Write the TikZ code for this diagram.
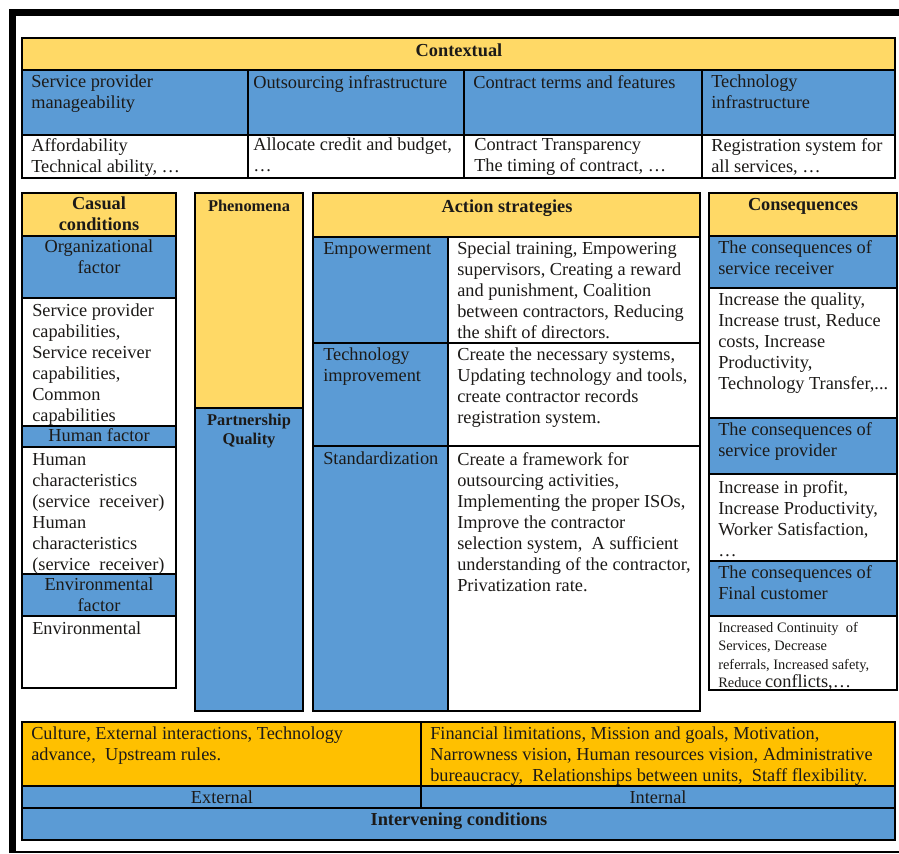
\documentclass[tikz,border=0pt]{standalone}
\usepackage{fontspec}
\setmainfont{Liberation Serif}
\usetikzlibrary{positioning}

\definecolor{headyellow}{HTML}{FFD966}
\definecolor{cellblue}{HTML}{5B9BD5}
\definecolor{condorange}{HTML}{FFC000}
\definecolor{ink}{HTML}{1C1A18}

\begin{document}
\begin{tikzpicture}[x = 0.75pt, y = -0.75pt,
    box/.style = {draw = black, line width = 1.2pt},
    txt/.style = {anchor = north west, inner sep = 0pt, align = left, text = ink,
                  font = \fontsize{13.75}{15.75}\selectfont},
    mid/.style = {txt, anchor = north, align = center},
    hdr/.style = {mid, font = \fontsize{13.75}{15.75}\selectfont\bfseries}]
    \useasboundingbox (0,0) rectangle (899,853);
    % frame %
    \draw[line width = 5.25pt] (12,853) -- (12,12) -- (899,12);
    \draw[line width = 1.2pt] (12,852) -- (899,852);
    % contextual block %
    \draw[box, fill = headyellow] (22,38) rectangle (895,70);
    \draw[box, fill = cellblue] (22,70) rectangle (248,135);
    \draw[box, fill = cellblue] (248,70) rectangle (464,135);
    \draw[box, fill = cellblue] (464,70) rectangle (702,135);
    \draw[box, fill = cellblue] (702,70) rectangle (895,135);
    \draw[box, fill = white] (22,135) rectangle (248,178);
    \draw[box, fill = white] (248,135) rectangle (464,178);
    \draw[box, fill = white] (464,135) rectangle (702,178);
    \draw[box, fill = white] (702,135) rectangle (895,178);
    % causal column %
    \draw[box, fill = headyellow] (22,193) rectangle (176,236);
    \draw[box, fill = cellblue] (22,236) rectangle (176,298);
    \draw[box, fill = white] (22,298) rectangle (176,426);
    \draw[box, fill = cellblue] (22,426) rectangle (176,447);
    \draw[box, fill = white] (22,447) rectangle (176,574);
    \draw[box, fill = cellblue] (22,574) rectangle (176,616);
    \draw[box, fill = white] (22,616) rectangle (176,688);
    % phenomena column %
    \draw[box, fill = headyellow] (195,193) rectangle (303,408);
    \draw[box, fill = cellblue] (195,408) rectangle (303,711);
    % strategies column %
    \draw[box, fill = headyellow] (313,193) rectangle (700,237);
    \draw[box, fill = cellblue] (313,237) rectangle (448,343);
    \draw[box, fill = white] (448,237) rectangle (700,343);
    \draw[box, fill = cellblue] (313,343) rectangle (448,446);
    \draw[box, fill = white] (448,343) rectangle (700,446);
    \draw[box, fill = cellblue] (313,446) rectangle (448,711);
    \draw[box, fill = white] (448,446) rectangle (700,711);
    % consequences column %
    \draw[box, fill = headyellow] (709,193) rectangle (897,236);
    \draw[box, fill = cellblue] (709,236) rectangle (897,288);
    \draw[box, fill = white] (709,288) rectangle (897,418);
    \draw[box, fill = cellblue] (709,418) rectangle (897,474);
    \draw[box, fill = white] (709,474) rectangle (897,561);
    \draw[box, fill = cellblue] (709,561) rectangle (897,616);
    \draw[box, fill = white] (709,616) rectangle (897,690);
    % intervening block %
    \draw[box, fill = condorange] (22,722) rectangle (421,786);
    \draw[box, fill = condorange] (421,722) rectangle (895,786);
    \draw[box, fill = cellblue] (22,786) rectangle (421,808);
    \draw[box, fill = cellblue] (421,786) rectangle (895,808);
    \draw[box, fill = cellblue] (22,808) rectangle (895,840);
    % contextual texts %
    \node[hdr] (ctx) at (459,44) {Contextual};
    \node[txt] (spm) at (31,75) {Service provider\\manageability};
    \node[txt] (oinf) at (253,75) {Outsourcing infrastructure};
    \node[txt] (ctf) at (473,75) {Contract terms and features};
    \node[txt] (tinf) at (711,75) {Technology\\infrastructure};
    \node[txt] (spm-d) at (31,138) {Affordability\\Technical ability, …};
    \node[txt] (oinf-d) at (253,138) {Allocate credit and budget,\\…};
    \node[txt] (ctf-d) at (474,138) {Contract Transparency\\The timing of contract, …};
    \node[txt] (tinf-d) at (711,138) {Registration system for\\all services, …};
    % causal texts %
    \node[hdr] (cas) at (99,197) {Casual\\conditions};
    \node[mid] (org) at (99,240) {Organizational\\factor};
    \node[txt] (org-d) at (32,304) {Service provider\\capabilities,\\Service receiver\\capabilities,\\Common\\capabilities};
    \node[mid] (hum) at (99,428) {Human factor};
    \node[txt] (hum-d) at (32,453) {Human\\characteristics\\(service\ \ receiver)\\Human\\characteristics\\(service\ \ receiver)};
    \node[mid] (env) at (99,578) {Environmental\\factor};
    \node[txt] (env-d) at (32,622) {Environmental};
    % phenomena texts %
    \node[hdr, font = \fontsize{12.3}{14.25}\selectfont\bfseries] (phen) at (249,200) {Phenomena};
    \node[hdr, font = \fontsize{12.3}{14.25}\selectfont\bfseries] (pq) at (249,414) {Partnership\\Quality};
    % strategies texts %
    \node[hdr] (act) at (507,200) {Action strategies};
    \node[txt] (emp) at (323,242) {Empowerment};
    \node[txt] (emp-d) at (457,242) {Special training, Empowering\\supervisors, Creating a reward\\and punishment, Coalition\\between contractors, Reducing\\the shift of directors.};
    \node[txt] (tec) at (323,348) {Technology\\improvement};
    \node[txt] (tec-d) at (457,348) {Create the necessary systems,\\Updating technology and tools,\\create contractor records\\registration system.};
    \node[txt] (std) at (323,452) {Standardization};
    \node[txt] (std-d) at (457,452) {Create a framework for\\outsourcing activities,\\Implementing the proper ISOs,\\Improve the contractor\\selection system,\ \ A sufficient\\understanding of the contractor,\\Privatization rate.};
    % consequences texts %
    \node[hdr] (cons) at (803,198) {Consequences};
    \node[txt] (rec) at (718,240) {The consequences of\\service receiver};
    \node[txt] (rec-d) at (718,293) {Increase the quality,\\Increase trust, Reduce\\costs, Increase\\Productivity,\\Technology Transfer,...};
    \node[txt] (prv) at (718,422) {The consequences of\\service provider};
    \node[txt] (prv-d) at (718,480) {Increase in profit,\\Increase Productivity,\\Worker Satisfaction,\\…};
    \node[txt] (fin) at (718,565) {The consequences of\\Final customer};
    \node[txt, font = \fontsize{10.8}{13.75}\selectfont] (fin-d) at (718,622) {Increased Continuity\ \ of\\Services, Decrease\\referrals, Increased safety,\\Reduce {\fontsize{13.75}{13.75}\selectfont conflicts,…}};
    % intervening texts %
    \node[txt] (ext-d) at (31,727) {Culture, External interactions, Technology\\advance,\ \ Upstream rules.};
    \node[txt] (int-d) at (430,727) {Financial limitations, Mission and goals, Motivation,\\Narrowness vision, Human resources vision, Administrative\\bureaucracy,\ \ Relationships between units,\ \ Staff flexibility.};
    \node[mid] (ext) at (222,791) {External};
    \node[mid] (int) at (658,791) {Internal};
    \node[hdr] (ivc) at (459,813) {Intervening conditions};
\end{tikzpicture}
\end{document}
